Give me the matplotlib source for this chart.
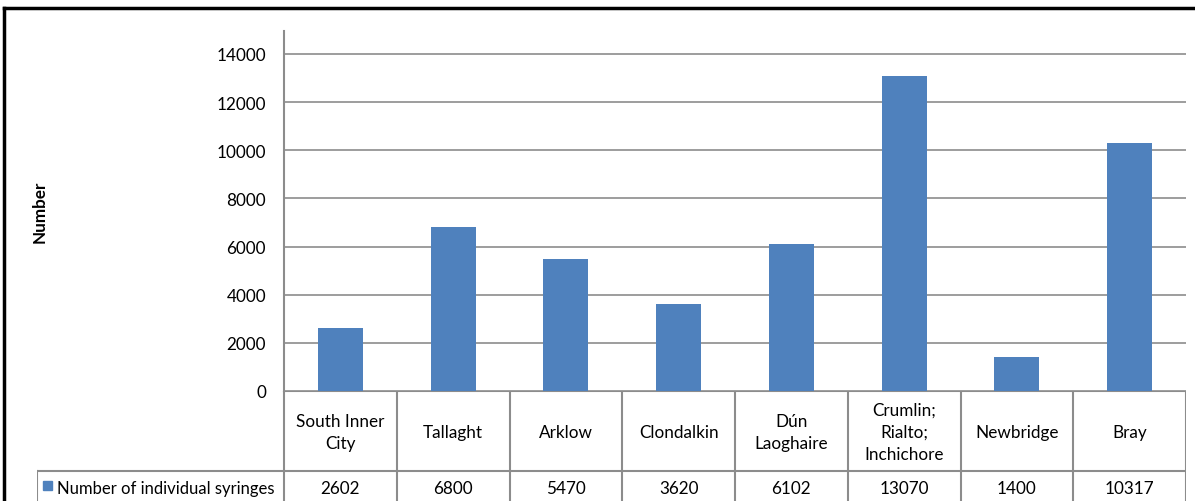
import matplotlib
matplotlib.use("Agg")
import matplotlib.pyplot as plt
from matplotlib.patches import Rectangle
from matplotlib.lines import Line2D

categories = ["South Inner\nCity", "Tallaght", "Arklow", "Clondalkin",
              "Dún\nLaoghaire", "Crumlin;\nRialto;\nInchichore", "Newbridge", "Bray"]
values = [2602, 6800, 5470, 3620, 6102, 13070, 1400, 10317]
series_name = "Number of individual syringes"
y_ticks = [0, 2000, 4000, 6000, 8000, 10000, 12000, 14000]

W, H = 1195, 502
BAR_COLOR = "#4F81BD"
GRID = "#8C8C8C"
FONT = "Lato"
FS = 12.3

fig = plt.figure(figsize=(W / 100, H / 100), dpi=100)

def fx(px):
    return px / W

def fy(py):
    return 1 - py / H

# plot area in pixel geometry
left, right = 284, 1186
top, base = 32, 392
row_sep = 472
legend_left = 37

ax = fig.add_axes([fx(left), fy(base), fx(right) - fx(left), fy(top) - fy(base)])
n = len(categories)
ymax = 14000 * (base - top) / (base - 55)
ax.set_xlim(0, n)
ax.set_ylim(0, ymax)
xs = [i + 0.5 for i in range(n)]
ax.bar(xs, values, width=0.4, color=BAR_COLOR, zorder=3)
ax.set_yticks(y_ticks)
ax.set_yticklabels([str(t) for t in y_ticks], fontsize=FS, family=FONT, color="#000000")
ax.tick_params(axis="y", length=0, pad=13)
ax.set_xticks([])
ax.yaxis.grid(True, color=GRID, linewidth=1.2, zorder=0)
for s in ["top", "right", "bottom"]:
    ax.spines[s].set_visible(False)
ax.spines["left"].set_color(GRID)
ax.spines["left"].set_linewidth(1.5)

# rotated axis title
fig.text(fx(40), fy(212), "Number", rotation=90, ha="center", va="center",
         fontsize=FS, family=FONT, fontweight="bold")

# data table beneath the plot
tab = fig.add_axes([fx(legend_left), 0, fx(right) - fx(legend_left), fy(base)])
tab.set_axis_off()
tab.set_xlim(legend_left, right)
tab.set_ylim(H, base)

col_w = (right - left) / n
lw = 1.5
tab.add_line(Line2D([left, right], [base, base], color=GRID, lw=lw))
tab.add_line(Line2D([legend_left, right], [row_sep, row_sep], color=GRID, lw=lw))
for i in range(n + 1):
    xv = left + i * col_w
    tab.add_line(Line2D([xv, xv], [base, H], color=GRID, lw=lw))
tab.add_line(Line2D([legend_left, legend_left], [row_sep, H], color=GRID, lw=lw))

for i, (cat, v) in enumerate(zip(categories, values)):
    cx = left + (i + 0.5) * col_w
    tab.text(cx, (base + row_sep) / 2 + 1, cat, ha="center", va="center",
             fontsize=FS, family=FONT, linespacing=1.5)
    tab.text(cx, (row_sep + H) / 2 + 2, str(v), ha="center", va="center",
             fontsize=FS, family=FONT)

tab.add_patch(Rectangle((43, 482), 9, 9, color=BAR_COLOR, clip_on=False))
tab.text(57, (row_sep + H) / 2 + 2, series_name, ha="left", va="center",
         fontsize=12, family=FONT)

# chart frame
fig.add_artist(Line2D([fx(4), fx(4)], [fy(9), 0], color="black", lw=2.5, transform=fig.transFigure))
fig.add_artist(Line2D([fx(4), 1], [fy(9), fy(9)], color="black", lw=2.5, transform=fig.transFigure))

fig.savefig("out.png", dpi=100)
